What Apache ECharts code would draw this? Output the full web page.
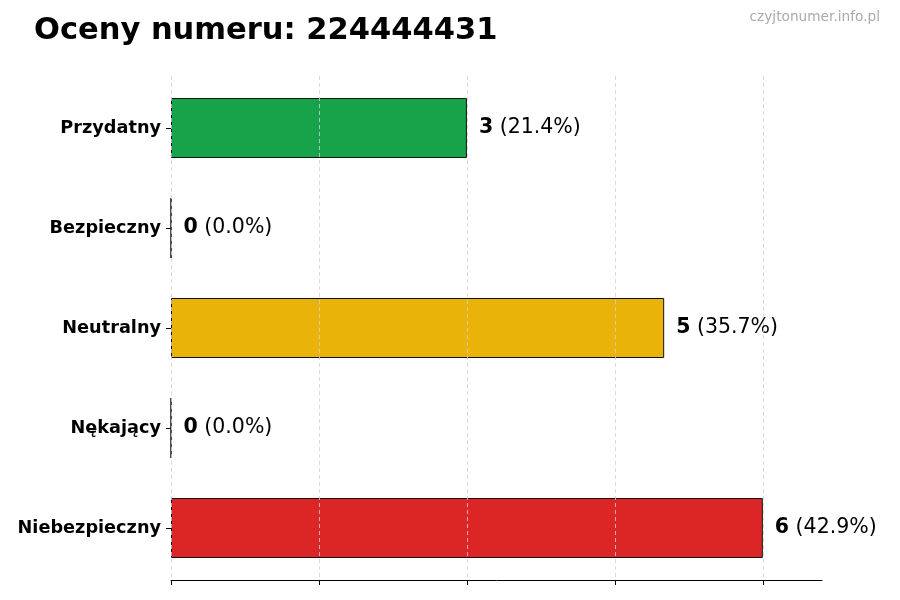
<!DOCTYPE html>
<html>
<head>
<meta charset="utf-8">
<script src="https://cdn.jsdelivr.net/npm/echarts@6/dist/echarts.min.js"></script>
<style>
  html, body { margin: 0; padding: 0; background: #fff; }
  #main { width: 900px; height: 600px; }
</style>
</head>
<body>
<div id="main"></div>
<script>
// ratings for the number, top to bottom
var categories = ['Przydatny', 'Bezpieczny', 'Neutralny', 'Nękający', 'Niebezpieczny'];
var counts = [3, 0, 5, 0, 6];
var percents = ['21.4', '0.0', '35.7', '0.0', '42.9'];
var xTicks = [0, 1.5, 3, 4.5, 6];

var barColors = ['#17a34a', '#17a34a', '#e9b30a', '#dc2626', '#dc2626'];

var FONT = '"DejaVu Sans", sans-serif';

var chart = echarts.init(document.getElementById('main'));

var barData = counts.map(function (v, i) {
	return { value: v, itemStyle: { color: barColors[i] } };
});

var option = {
	animation: false,
	textStyle: { fontFamily: FONT },
	graphic: [
		{
			type: 'text', left: 34, top: 16,
			style: { text: 'Oceny numeru: 224444431', font: 'bold 30.5px ' + FONT, fill: '#000' }
		},
		{
			type: 'text', right: 20, top: 10,
			style: { text: 'czyjtonumer.info.pl', font: '13.7px ' + FONT, fill: '#aaaaaa' }
		}
	],
	grid: [
		// grid for the value axis line + dashed grid lines
		{ left: 171, right: 78, top: 76, bottom: 20, containLabel: false },
		// grid for the bars / categories
		{ left: 171, right: 78, top: 78, bottom: 22, containLabel: false }
	],
	xAxis: [
		{
			gridIndex: 0, type: 'value', min: 0, max: 6.6, z: 5,
			axisLine: { show: true, lineStyle: { color: '#000', width: 1 } },
			axisTick: { show: true, length: 5, inside: false, customValues: xTicks, lineStyle: { color: '#000' } },
			axisLabel: { show: false, customValues: xTicks },
			splitLine: { show: true, lineStyle: { color: '#d0d0d0', type: [4, 3], width: 0.8 } }
		},
		{
			gridIndex: 1, type: 'value', min: 0, max: 6.6,
			axisLine: { show: false }, axisTick: { show: false },
			axisLabel: { show: false }, splitLine: { show: false }
		}
	],
	yAxis: [
		{
			gridIndex: 0, type: 'value', show: false
		},
		{
			gridIndex: 1, type: 'category', inverse: true, data: categories,
			axisLine: { show: false },
			axisTick: { show: true, alignWithLabel: true, length: 5, lineStyle: { color: '#000' } },
			axisLabel: { color: '#000', fontWeight: 'bold', fontSize: 17.7, fontFamily: FONT, margin: 10, padding: [3, 0, 0, 0] }
		}
	],
	series: [
		{
			type: 'bar',
			xAxisIndex: 1, yAxisIndex: 1,
			barWidth: '60%',
			data: barData,
			itemStyle: { borderColor: '#111', borderWidth: 1 },
			label: {
				show: true, position: 'right', distance: 12,
				fontSize: 20.5, fontFamily: FONT,
				formatter: function (p) {
					return '{b|' + counts[p.dataIndex] + '}{n| (' + percents[p.dataIndex] + '%)}';
				},
				rich: {
					b: { fontWeight: 'bold', fontSize: 20.5, color: '#000', fontFamily: FONT },
					n: { fontSize: 20.5, color: '#000', fontFamily: FONT }
				}
			}
		}
	]
};

chart.setOption(option);
</script>
</body>
</html>
